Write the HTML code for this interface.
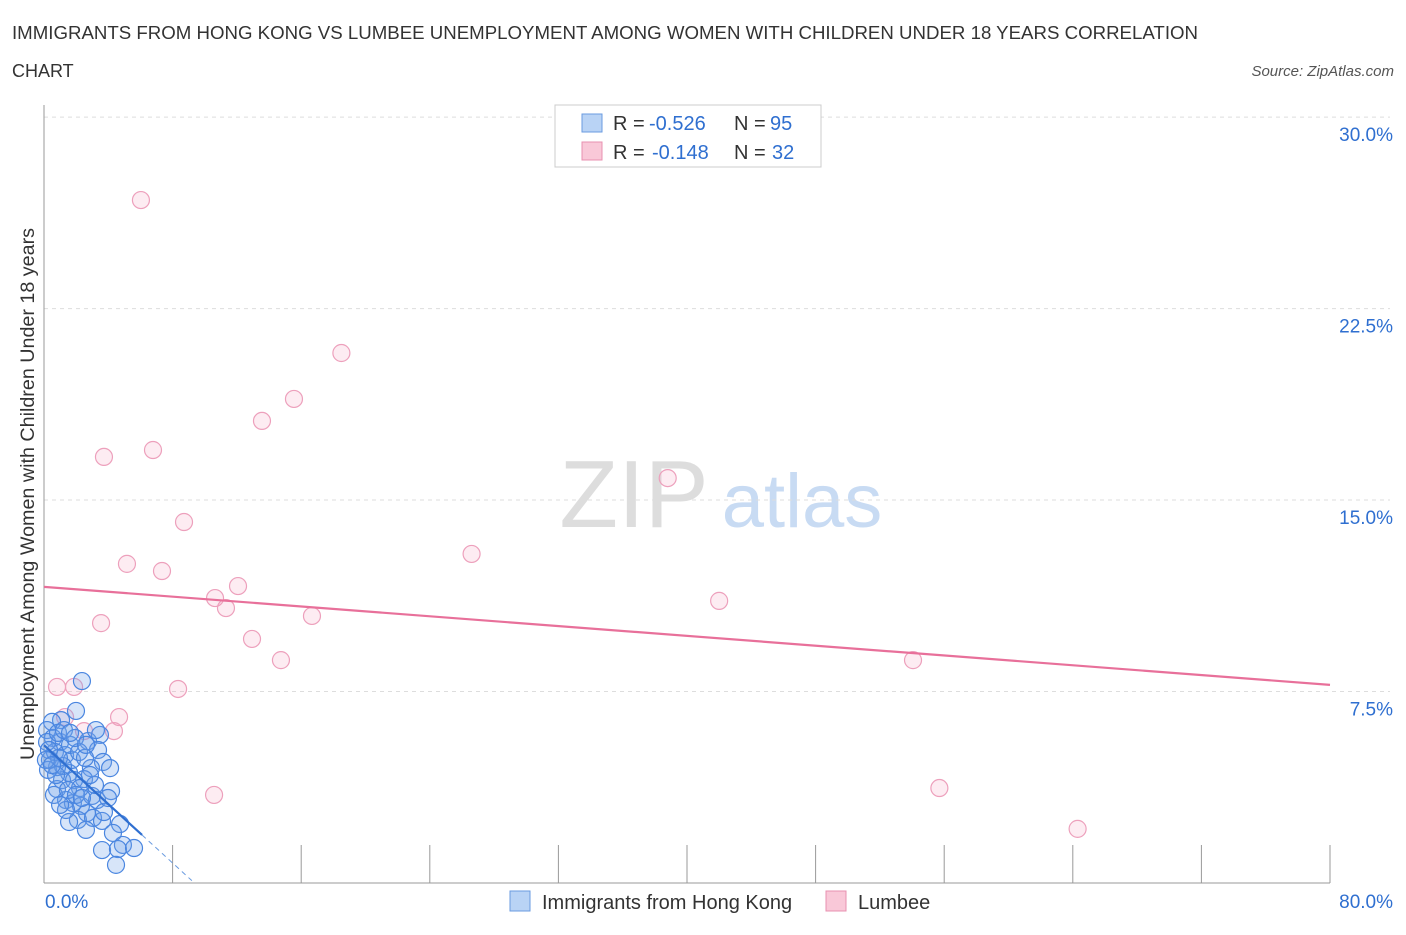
<!DOCTYPE html>
<html><head><meta charset="utf-8"><style>
body{margin:0;background:#fff;font-family:"Liberation Sans",sans-serif}
svg text{font-family:"Liberation Sans",sans-serif}
</style></head><body>
<svg id="c" width="1406" height="930">
<text x="12" y="39" font-size="18" fill="#333" textLength="1186" lengthAdjust="spacingAndGlyphs">IMMIGRANTS FROM HONG KONG VS LUMBEE UNEMPLOYMENT AMONG WOMEN WITH CHILDREN UNDER 18 YEARS CORRELATION</text>
<text x="12" y="77" font-size="18" fill="#333">CHART</text>
<text x="1394" y="76" font-size="15" fill="#555" font-style="italic" text-anchor="end">Source: ZipAtlas.com</text>
<text x="634" y="527" font-size="96" fill="#ddd" font-family="Liberation Serif" text-anchor="middle">ZIP</text>
<text x="802" y="527" font-size="76" fill="#c8dbf3" text-anchor="middle">atlas</text>
<text transform="translate(34,494) rotate(-90)" font-size="19" fill="#333" text-anchor="middle" textLength="532" lengthAdjust="spacingAndGlyphs">Unemployment Among Women with Children Under 18 years</text>
<g id="grid"></g><g id="pts"></g><g id="lines"></g>
<g>
<rect x="555" y="105" width="266" height="62" fill="#fff" stroke="#ccc"/>
<rect x="582" y="114" width="20" height="18" fill="#b9d3f5" stroke="#6a9be0"/>
<rect x="582" y="142" width="20" height="18" fill="#f9c8d8" stroke="#e890b0"/>
<text x="613" y="130" font-size="20" fill="#333">R =</text>
<text x="649" y="130" font-size="20" fill="#2f6fd0">-0.526</text>
<text x="734" y="130" font-size="20" fill="#333">N =</text>
<text x="770" y="130" font-size="20" fill="#2f6fd0">95</text>
<text x="613" y="159" font-size="20" fill="#333">R =</text>
<text x="652" y="159" font-size="20" fill="#2f6fd0">-0.148</text>
<text x="734" y="159" font-size="20" fill="#333">N =</text>
<text x="772" y="159" font-size="20" fill="#2f6fd0">32</text>
</g>
<g>
<rect x="510" y="891" width="20" height="20" fill="#b9d3f5" stroke="#6a9be0"/>
<text x="542" y="909" font-size="20" fill="#333">Immigrants from Hong Kong</text>
<rect x="826" y="891" width="20" height="20" fill="#f9c8d8" stroke="#e890b0"/>
<text x="858" y="909" font-size="20" fill="#333">Lumbee</text>
</g>
</svg>
<script>
const blueX=[2.36,1.99,1.06,0.50,0.19,0.56,1.00,2.74,3.48,3.36,3.67,4.11,2.92,2.49,1.56,1.12,0.81,1.37,1.80,2.30,2.99,3.30,4.17,2.67,2.11,1.56,3.05,3.61,2.61,4.73,4.29,4.91,3.61,4.60,5.60,4.48,0.81,0.37,0.25,0.68,1.31,1.74,1.18,1.87,2.24,3.17,0.62,0.19,0.87,1.62,2.18,2.55,0.93,1.49,1.99,2.86,1.24,1.93,0.31,0.75,1.37,1.00,2.36,3.73,3.98,2.61,3.23,1.62,0.12,0.50];
const blueY=[7.91,6.74,6.38,6.31,5.99,5.68,5.52,5.56,5.80,5.21,4.74,4.50,4.50,4.07,4.31,4.03,3.68,3.25,3.13,3.02,3.41,3.25,3.60,2.74,2.47,2.39,2.55,2.43,2.08,2.31,1.96,1.49,1.29,1.33,1.37,0.71,4.54,4.82,4.43,5.13,5.01,4.82,4.58,4.03,3.72,3.84,3.45,5.52,5.88,5.41,5.13,4.90,4.90,3.64,3.45,4.23,5.99,5.68,5.21,4.23,2.86,3.06,3.33,2.78,3.33,5.41,5.99,5.88,4.82,4.62];
const pinkX=[6.03,18.5,15.55,13.56,6.78,3.73,38.8,8.71,26.6,5.16,7.34,12.07,10.64,11.32,42.0,16.67,3.55,12.94,14.74,54.06,0.81,1.87,8.34,1.31,4.67,2.49,4.35,10.58,55.7,64.3];
const pinkY=[26.75,20.76,18.96,18.1,16.96,16.69,15.86,14.14,12.89,12.5,12.22,11.63,11.16,10.77,11.05,10.46,10.18,9.56,8.73,8.73,7.68,7.68,7.6,6.5,6.5,5.95,5.95,3.45,3.72,2.12];
const yTicks=[7.5,15,22.5,30];
const yTickLabels=["7.5%","15.0%","22.5%","30.0%"];
const xTicks=[0,8,16,24,32,40,48,56,64,72,80];
const blueTrend=[5.4,-0.577];
const pinkTrend=[11.6,-0.048];
const X=v=>44+v/80*1286, Y=v=>883-v*25.53;
const NS="http://www.w3.org/2000/svg";
function mk(p,t,a){const e=document.createElementNS(NS,t);for(const k in a)e.setAttribute(k,a[k]);p.appendChild(e);return e;}
const g=document.getElementById('grid');
yTicks.forEach((v,i)=>{
 const l=mk(g,'line',{x1:44,x2:1390,y1:Y(v),y2:Y(v),stroke:'#ddd','stroke-dasharray':'4,4'});
 
 
 const t=mk(g,'text',{x:1393,y:Y(v)+24,'font-size':19,fill:'#2f6fd0','text-anchor':'end'});t.textContent=yTickLabels[i];
 
 
});
mk(g,'line',{x1:44,x2:44,y1:105,y2:883,stroke:'#999'});
mk(g,'line',{x1:44,x2:1330,y1:883,y2:883,stroke:'#999'});
xTicks.forEach(v=>{const l=mk(g,'line',{x1:X(v),x2:X(v),y1:845,y2:883,stroke:'#999'});
 
 });
let t=mk(g,'text',{x:45,y:908,'font-size':19,fill:'#2f6fd0'});t.textContent='0.0%';


t=mk(g,'text',{x:1393,y:908,'font-size':19,fill:'#2f6fd0','text-anchor':'end'});t.textContent='80.0%';


const p=document.getElementById('pts');
pinkX.forEach((x,i)=>{const c=mk(p,'circle',{cx:X(x),cy:Y(pinkY[i]),r:8.5,fill:'rgba(245,160,190,0.2)',stroke:'#eda0bc','stroke-width':1.2});
 
 });
blueX.forEach((x,i)=>{const c=mk(p,'circle',{cx:X(x),cy:Y(blueY[i]),r:8.5,fill:'rgba(110,160,235,0.28)',stroke:'#4a86e0','stroke-width':1.2});
 
 });
const L=document.getElementById('lines');
let l=mk(L,'line',{x1:X(0),y1:Y(pinkTrend[0]),x2:X(80),y2:Y(pinkTrend[0]+pinkTrend[1]*80),stroke:'#e8709a','stroke-width':2.2});


l=mk(L,'line',{x1:X(0),y1:Y(blueTrend[0]),x2:X(6.1),y2:Y(blueTrend[0]+blueTrend[1]*6.1),stroke:'#2f6fd0','stroke-width':2.2});


l=mk(L,'line',{x1:X(6.1),y1:Y(blueTrend[0]+blueTrend[1]*6.1),x2:X(9.2),y2:Y(blueTrend[0]+blueTrend[1]*9.2),stroke:'#6a9be0','stroke-width':1,'stroke-dasharray':'5,4'});


</script>
</body></html>
